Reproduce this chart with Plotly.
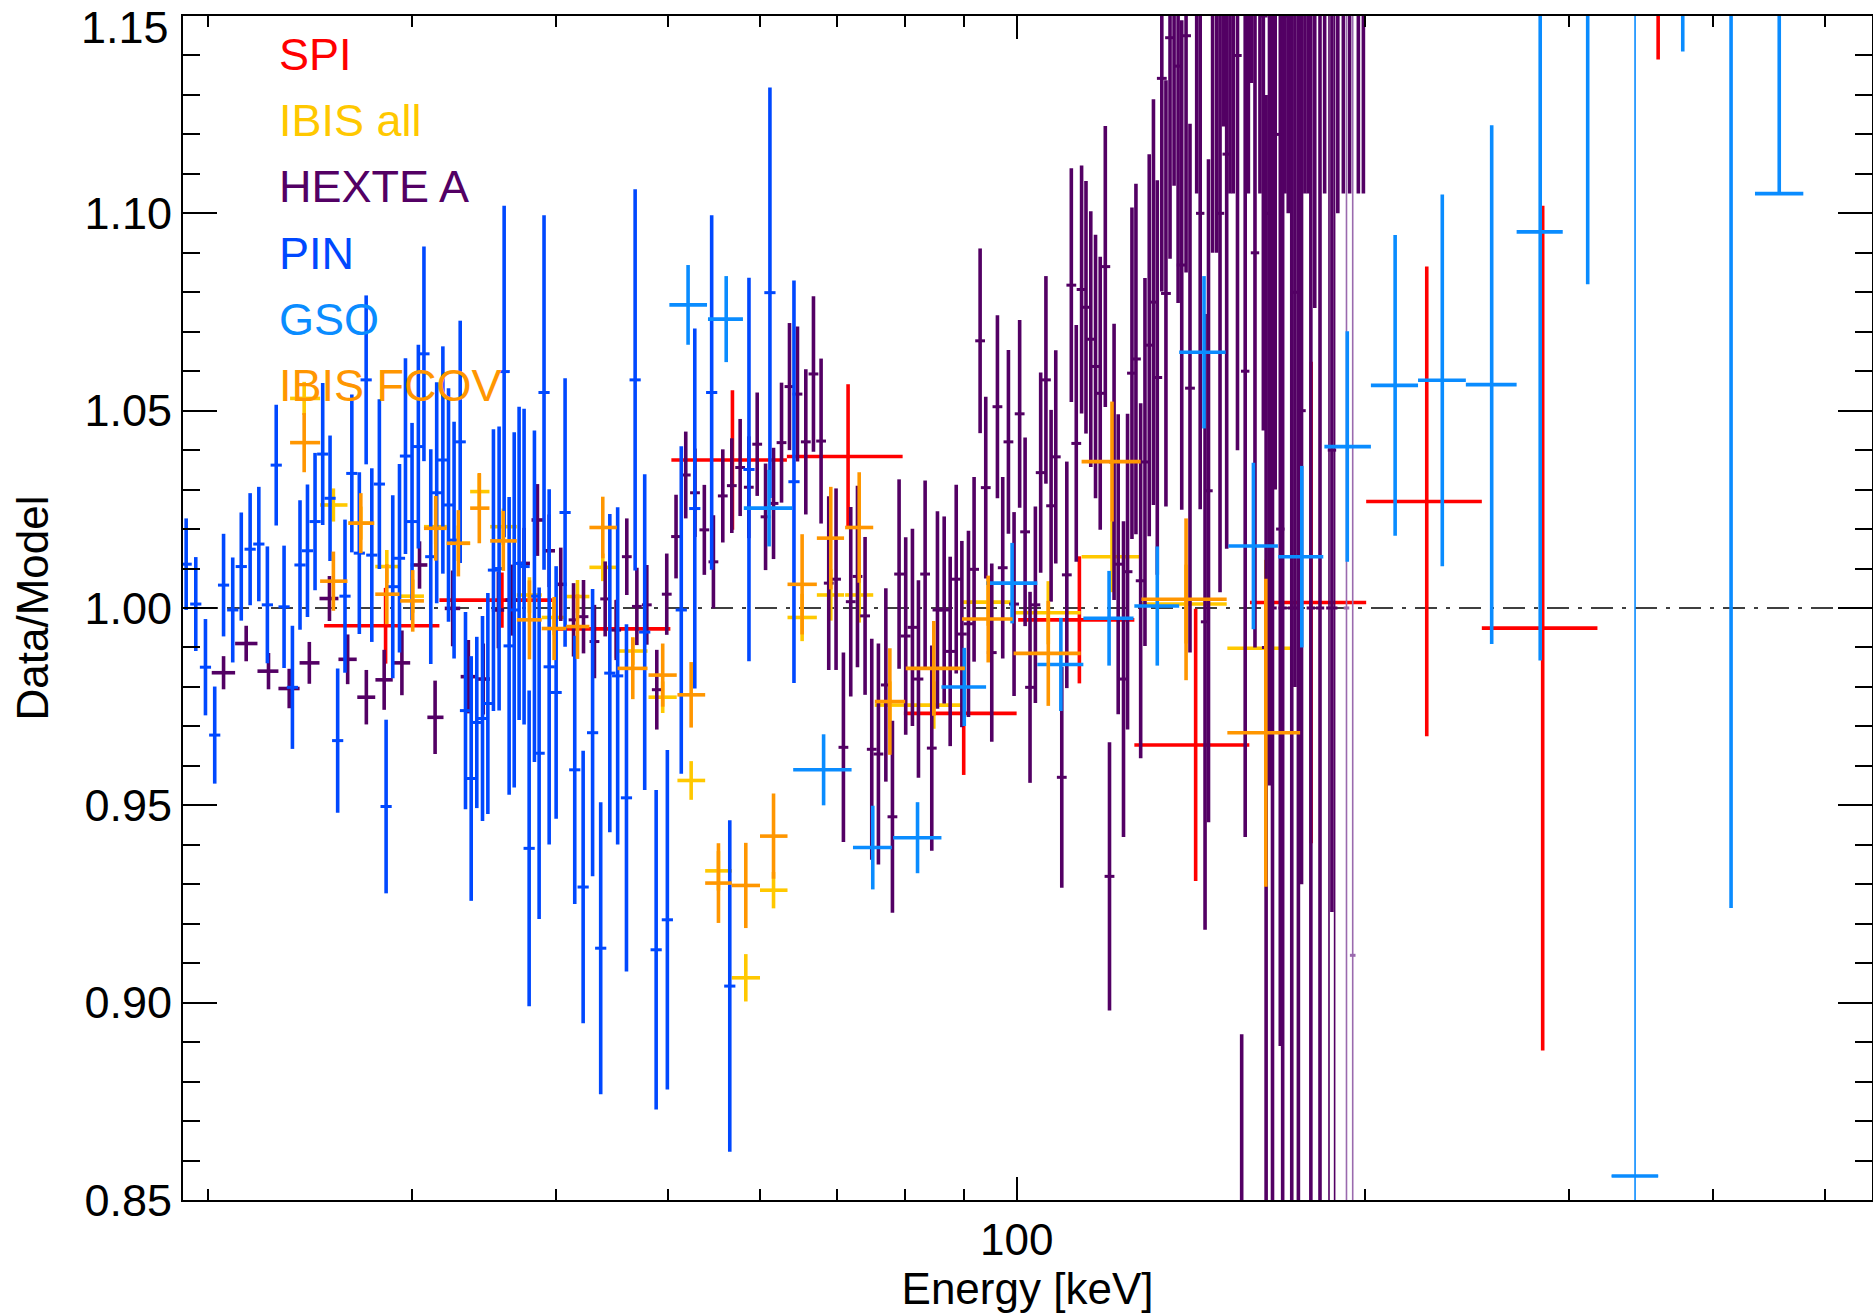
import numpy as np
import plotly.graph_objects as go

# ---------------- data ----------------
# SPI
spi_E = [28.48, 35.9, 45.1, 56.8, 71.5, 90.0, 113.3, 142.8, 179.7, 226.2, 284.9, 358.5]
spi_lo = [25.2, 31.7, 39.7, 50.3, 63.3, 79.9, 100.3, 126.4, 159.1, 200.5, 252.4, 317.7]
spi_hi = [31.7, 39.7, 50.2, 63.3, 79.7, 100.0, 126.4, 158.9, 200.5, 252.4, 317.7, 404.0]
spi_v = [0.9955, 1.002, 0.9947, 1.0375, 1.0384, 0.9733, 0.9970, 0.9653, 1.0014, 1.027, 0.9949, 1.25]
spi_err = [0.0096, 0.007, 0.0074, 0.0177, 0.0183, 0.0156, 0.0161, 0.0345, 0.061, 0.0595, 0.107, 0.111]

# IBIS all
ia_E = [24.22, 25.67, 27.11, 28.55, 30.06, 31.47, 32.92, 34.32, 36.0, 37.92,
        39.83, 41.73, 43.88, 46.58, 49.44, 52.32, 55.24, 58.33, 61.64, 65.25,
        69.08, 73.1, 77.7, 84.8, 94.5, 106.5, 120.9, 140.1, 164.2]
ia_lo = [23.55, 25.0, 26.45, 27.9, 29.32, 30.74, 32.17, 33.7, 35.07, 36.98,
         38.86, 40.8, 42.73, 45.19, 48.06, 50.91, 53.8, 56.73, 60.0, 63.38,
         67.19, 71.08, 75.4, 80.2, 89.7, 99.4, 113.8, 128.2, 152.1]
ia_hi = [25.0, 26.4, 27.84, 29.28, 30.74, 32.17, 33.7, 35.02, 36.98, 38.86,
         40.8, 42.73, 45.12, 47.97, 50.84, 53.8, 56.73, 60.0, 63.38, 67.19,
         70.93, 75.17, 80.1, 90.2, 99.2, 113.6, 128.0, 151.9, 172.3]
ia_v = [1.0531, 1.0261, 1.0215, 1.0105, 1.003, 1.0206, 1.0164, 1.0295, 1.0206, 1.0033,
        0.9976, 1.0029, 1.0103, 0.9891, 0.9774, 0.9563, 0.9334, 0.9063, 0.9285, 0.9976,
        1.0033, 1.0033, 0.9754, 0.9754, 1.0015, 0.9988, 1.013, 1.001, 0.9898]
ia_err = [0.0042, 0.0042, 0.0042, 0.0042, 0.0042, 0.0044, 0.0045, 0.0045, 0.0046, 0.0045,
          0.0045, 0.0042, 0.0035, 0.0035, 0.004, 0.0049, 0.005, 0.006, 0.0046, 0.006,
          0.0065, 0.007, 0.006, 0.006, 0.006, 0.008, 0.009, 0.01, 0.0224]

# HEXTE A, low-energy binned points
hl_E = [20.63, 21.58, 22.56, 23.51, 24.47, 25.47, 26.41, 27.41, 28.4, 29.42, 30.47,
        31.43, 32.55, 33.58, 34.59, 35.65, 36.6, 37.52, 38.53, 39.44, 40.36]
hl_lo = [20.15, 21.11, 22.07, 23.01, 24.0, 24.97, 25.93, 26.92, 27.91, 28.89, 29.94,
         30.95, 32.04, 33.07, 34.13, 35.19, 36.15, 37.03, 38.08, 38.99, 39.9]
hl_hi = [21.11, 22.07, 23.01, 24.0, 24.97, 25.93, 26.89, 27.9, 28.89, 29.91, 30.95,
         31.96, 33.04, 34.03, 35.06, 36.06, 37.03, 37.96, 38.99, 39.9, 40.84]
hl_v = [0.9836, 0.991, 0.984, 0.9796, 0.9861, 1.0024, 0.987, 0.9774, 0.9818, 0.9861, 1.0109,
        0.9723, 0.9999, 0.9826, 0.982, 0.9995, 1.002, 1.0113, 1.0223, 1.0145, 1.006]
hl_err = [0.0042, 0.0045, 0.0046, 0.005, 0.0053, 0.0057, 0.0063, 0.0069, 0.0076, 0.0082, 0.006,
          0.0093, 0.0096, 0.0093, 0.009, 0.0097, 0.009, 0.009, 0.0091, 0.0092, 0.0093]

# HEXTE A, fine channels
hx_E = [41.4, 42.23, 43.16, 44.09, 45.07, 46.03, 46.96, 47.9, 48.86, 49.84,
        50.77, 51.76, 52.72, 53.71, 54.69, 55.72, 56.73, 57.68, 58.68, 59.67,
        60.67, 61.64, 62.63, 63.63, 64.65, 65.73, 66.74, 67.76, 68.8, 69.81,
        70.84, 71.88, 72.85, 73.96, 74.95, 75.95, 77.08, 78.1, 79.14, 80.19,
        81.27, 82.25, 83.35, 84.46, 85.42, 86.57, 87.61, 88.67, 89.67, 90.86,
        91.88, 92.99, 94.04, 95.17, 96.25, 97.27, 98.38, 99.49, 100.6, 101.7,
        102.7, 103.8, 104.9, 106.0, 107.1, 108.1, 109.4, 110.5, 111.5, 112.6,
        113.8, 114.8, 115.9, 117.0, 118.1, 119.3, 120.3, 121.4, 122.4, 123.7,
        124.7, 125.8, 126.8, 128.0, 129.1, 130.2, 131.3, 132.3, 133.5, 134.6,
        135.7, 136.8, 137.9, 138.9, 140.1, 141.2]
hx_v = [0.997, 0.9978, 0.9915, 1.0023, 0.9944, 1.013, 1.0004, 1.0008, 0.9793, 1.0035,
        1.0181, 1.0337, 1.0292, 1.0198, 1.0117, 1.0284, 1.031, 1.0356, 1.0306, 1.0415,
        1.0231, 1.0265, 1.0419, 1.0561, 1.0542, 1.0421, 1.0593, 1.0423, 1.0063, 1.0073,
        0.9647, 1.0016, 1.008, 0.998, 0.9642, 0.963, 0.9805, 0.9471, 1.0086, 0.9929,
        0.9951, 0.982, 1.0086, 0.9645, 0.9995, 0.9995, 0.989, 1.0073, 0.9934, 0.996,
        1.0098, 1.0677, 1.0305, 0.9887, 1.051, 1.0102, 1.0421, 1.001, 1.0492, 1.0193,
        0.9799, 1.0008, 1.0343, 1.0578, 1.0259, 1.0383, 0.9571, 1.0084, 1.0818, 1.0417,
        1.0807, 1.0762, 1.0681, 1.0612, 1.0544, 1.0865, 0.932, 1.037, 1.0111, 0.982,
        1.0092, 1.0595, 1.0631, 1.0069, 1.037, 1.0666, 1.0775, 1.0584, 1.1342, 1.0797,
        1.1445, 1.163, 1.1373, 1.0869, 1.145, 1.0557]
hx_err = [0.0093, 0.0093, 0.0093, 0.0095, 0.0076, 0.0097, 0.0098, 0.0101, 0.0101, 0.0103,
          0.0106, 0.011, 0.0112, 0.0114, 0.0118, 0.0118, 0.012, 0.0123, 0.0129, 0.0131,
          0.0135, 0.0141, 0.0152, 0.0161, 0.0171, 0.0184, 0.0197, 0.0209, 0.022, 0.023,
          0.024, 0.024, 0.023, 0.02, 0.028, 0.028, 0.0245, 0.0243, 0.024, 0.025,
          0.025, 0.025, 0.0237, 0.026, 0.025, 0.0237, 0.024, 0.0239, 0.0236, 0.0236,
          0.0234, 0.0234, 0.023, 0.0226, 0.0232, 0.023, 0.0233, 0.0233, 0.0238, 0.0239,
          0.0242, 0.0249, 0.0254, 0.0263, 0.0243, 0.027, 0.028, 0.0287, 0.0296, 0.03,
          0.0314, 0.032, 0.0324, 0.0334, 0.0346, 0.0356, 0.034, 0.035, 0.038, 0.04,
          0.04, 0.042, 0.0444, 0.045, 0.0466, 0.0484, 0.0514, 0.05, 0.054, 0.054,
          0.056, 0.056, 0.06, 0.062, 0.06, 0.067]

# HEXTE A, high-energy tail
ht_E = [143.1, 144.1, 145.5, 146.5, 147.7, 148.9, 149.9, 150.9, 151.9, 152.9,
        153.9, 155.2, 156.5, 157.6, 158.6, 159.6, 160.7, 162.3, 163.4, 164.3,
        165.4, 166.4, 167.3, 169.0, 169.8, 170.6, 171.7, 172.9, 174.0, 175.2,
        176.3, 177.5, 178.7, 179.6, 181.0, 182.9, 184.6, 187.3, 189.5, 191.6,
        194.0, 197.4, 199.4]
ht_v = [1.21, 1.10, 0.9965, 1.0297, 1.19, 1.18, 1.10, 1.23, 1.115, 1.21,
        1.21, 1.14, 0.80, 1.06, 1.21, 1.25, 1.09, 1.21, 1.15, 0.99,
        1.10, 1.00, 1.12, 1.02, 1.00, 1.21, 1.15, 1.00, 1.08, 1.00,
        1.05, 1.21, 1.21, 1.00, 1.17, 1.00, 1.21, 1.04, 1.20, 1.21,
        1.21, 1.21, 1.21]
ht_err = [0.105, 0.075, 0.078, 0.084, 0.10, 0.09, 0.096, 0.108, 0.10, 0.105,
          0.105, 0.10, 0.092, 0.118, 0.105, 0.117, 0.10, 0.105, 0.105, 0.14,
          0.145, 0.17, 0.09, 0.131, 0.17, 0.105, 0.05, 0.18, 0.10, 0.19,
          0.12, 0.105, 0.105, 0.2, 0.094, 0.21, 0.105, 0.117, 0.10, 0.105,
          0.105, 0.105, 0.105]
# HEXTE A, last channels with very large errors
hthin_E = [186.2, 188.3]
hthin_v = [1.0, 1.0]
hthin_err = [0.3, 0.3]
hlast_E = [192.8, 195.2]
hlast_v = [1.0, 0.912]
hlast_err = [0.35, 0.4]

# PIN
pin_E = [19.15, 19.52, 19.90, 20.27, 20.63, 21.01, 21.37, 21.75, 22.13, 22.51,
         22.91, 23.27, 23.66, 24.02, 24.38, 24.75, 25.13, 25.50, 25.89, 26.27,
         26.63, 27.03, 27.40, 27.71, 28.13, 28.51, 28.89, 29.28, 29.63, 30.02,
         30.40, 30.74, 31.16, 31.53, 31.92, 32.28, 32.64, 33.04, 33.39, 33.77,
         34.15, 34.54, 34.91, 35.30, 35.70, 36.06, 36.42, 36.79, 37.15, 37.52,
         37.90, 38.30, 38.66, 39.04, 39.44, 39.99, 40.71, 41.5, 42.2, 43.0,
         43.7, 44.5, 45.2, 46.0, 46.8, 47.7, 48.8, 49.9, 51.3, 52.7,
         54.5, 56.5, 58.7, 61.2, 64.2]
pin_v = [1.0111, 1.0010, 0.9850, 0.9678, 1.0058, 0.9995, 1.0105, 1.0149, 1.0162, 1.0008,
         1.0362, 1.0003, 0.9799, 1.0109, 1.0145, 1.0219, 1.0390, 1.0278, 0.9664, 1.0030,
         1.0341, 1.0139, 1.0578, 1.0134, 1.0314, 0.9497, 1.0054, 1.0126, 1.0385, 1.0219,
         1.0409, 1.0644, 1.0130, 1.0292, 1.0375, 1.0261, 1.0172, 1.0421, 0.974, 0.9568,
         0.9710, 0.9720, 0.9758, 1.0096, 1.0100, 1.0599, 0.9904, 0.9995, 1.0113, 1.0105,
         0.9391, 1.0030, 0.9632, 1.0546, 0.9851, 0.9786, 1.0242, 0.959, 0.9293, 0.9684,
         0.9138, 0.9835, 0.9828, 0.9519, 1.0578, 0.9939, 0.9134, 0.921, 0.9995, 1.0252,
         1.0546, 0.9042, 1.0351, 1.0799, 1.032]
pin_err = [0.0116, 0.0119, 0.0122, 0.0123, 0.0130, 0.0133, 0.0137, 0.0142, 0.0145, 0.0148,
           0.0153, 0.0155, 0.0156, 0.0164, 0.0168, 0.0174, 0.0180, 0.0159, 0.0183, 0.0194,
           0.0200, 0.0205, 0.0214, 0.0220, 0.0215, 0.0220, 0.0232, 0.0239, 0.0248, 0.0250,
           0.0258, 0.0272, 0.0272, 0.0280, 0.0288, 0.0296, 0.0300, 0.0307, 0.025, 0.031,
           0.0217, 0.026, 0.028, 0.0357, 0.0360, 0.0420, 0.0377, 0.0450, 0.0397, 0.0400,
           0.0400, 0.0420, 0.0420, 0.0449, 0.0450, 0.032, 0.034, 0.034, 0.0345, 0.0364,
           0.037, 0.0403, 0.0427, 0.044, 0.0483, 0.040, 0.0405, 0.043, 0.0415, 0.0456,
           0.0449, 0.042, 0.0486, 0.052, 0.051]

# GSO
gso_E = [52.0, 56.1, 61.1, 68.1, 75.1, 82.1, 90.1, 99.1, 109.2, 120.2, 132.3, 145.2,
         160.2, 176.4, 193.1, 212.4, 233.3, 257.4, 283.5, 311.6, 376.5, 414.5, 456.2]
gso_lo = [50.1, 54.1, 58.1, 64.1, 72.2, 78.2, 86.1, 94.1, 104.2, 114.2, 126.4, 138.2,
          152.4, 168.3, 184.5, 202.4, 222.3, 244.5, 270.5, 296.5, 358.5, 395.0, 434.7]
gso_hi = [54.0, 58.0, 64.0, 72.0, 78.0, 86.1, 94.1, 104.2, 114.2, 126.2, 138.2, 151.6,
          168.2, 184.1, 202.4, 222.3, 244.5, 270.5, 296.5, 326.4, 395.0, 434.7, 478.6]
gso_v = [1.0768, 1.0732, 1.0253, 0.9590, 0.9393, 0.9418, 0.9800, 1.0063, 0.9857, 0.9974,
         1.0005, 1.0648, 1.0157, 1.0130, 1.0409, 1.0564, 1.0577, 1.0566, 1.0953, 1.2000,
         1.2500, 1.2000, 1.1050]
gso_eplus = [0.0101, 0.0109, 0.0097, 0.009, 0.0106, 0.009, 0.0099, 0.0102, 0.0118, 0.012,
             0.0151, 0.0193, 0.0211, 0.023, 0.0292, 0.0381, 0.0471, 0.0657, 0.1086, 0.118,
             0.109, 0.276, 0.2]
gso_eminus = [0.0101, 0.0109, 0.0097, 0.009, 0.0106, 0.009, 0.0099, 0.0102, 0.0118, 0.012,
              0.0151, 0.0193, 0.0211, 0.023, 0.0292, 0.0381, 0.0471, 0.0657, 0.1086, 0.118,
              0.109, 0.276, 0.0]
gso_thin_E = [342.4]
gso_thin_lo = [326.8]
gso_thin_hi = [358.5]
gso_thin_v = [0.8561]
gso_thin_err = [0.6]

# IBIS FCOV
fc_E = [24.22, 25.67, 27.11, 28.55, 30.06, 31.47, 32.92, 34.32, 36.0, 37.92,
        39.83, 41.73, 43.88, 46.58, 49.44, 52.32, 55.24, 58.33, 61.64, 65.25,
        69.08, 73.1, 77.7, 84.8, 94.5, 106.5, 120.9, 140.1, 164.2]
fc_lo = [23.55, 25.0, 26.45, 27.9, 29.32, 30.74, 32.17, 33.7, 35.07, 36.98,
         38.86, 40.8, 42.73, 45.19, 48.06, 50.91, 53.8, 56.73, 60.0, 63.38,
         67.19, 71.08, 75.4, 80.2, 89.7, 99.4, 113.8, 128.2, 152.1]
fc_hi = [25.0, 26.4, 27.84, 29.28, 30.74, 32.17, 33.7, 35.02, 36.98, 38.86,
         40.8, 42.73, 45.12, 47.97, 50.84, 53.8, 56.73, 60.0, 63.38, 67.19,
         70.93, 75.17, 80.1, 90.2, 99.2, 113.6, 128.0, 151.9, 175.8]
fc_v = [1.0419, 1.0068, 1.0215, 1.0035, 1.0018, 1.0202, 1.0164, 1.0253, 1.017, 0.997,
        0.9948, 0.9953, 1.0204, 0.9847, 0.983, 0.978, 0.9303, 0.9297, 0.9422, 1.006,
        1.0177, 1.0204, 0.9763, 0.9847, 0.9972, 0.9885, 1.0371, 1.0022, 0.9684]
fc_err = [0.0075, 0.0075, 0.0076, 0.0076, 0.0078, 0.0082, 0.0084, 0.0089, 0.0076, 0.01,
          0.008, 0.0082, 0.0078, 0.0078, 0.008, 0.0083, 0.0101, 0.0108, 0.0108, 0.0127,
          0.013, 0.014, 0.0135, 0.012, 0.011, 0.0133, 0.0152, 0.0205, 0.039]

legend_labels = ["SPI", "IBIS all", "HEXTE A", "PIN", "GSO", "IBIS FCOV"]
y_ticks = [0.85, 0.90, 0.95, 1.00, 1.05, 1.10, 1.15]
y_tick_text = ["0.85", "0.90", "0.95", "1.00", "1.05", "1.10", ""]
y_top_label = "1.15"   # drawn separately, nudged down so it is not cut by the page edge
x_ticks = [100]
x_minor = [20, 30, 40, 50, 60, 70, 80, 90, 200, 300, 400, 500]

# ---------------- styling ----------------
C_SPI = "#FF0000"
C_IA = "#FFC800"
C_HEX = "#530064"
C_HEX_LIGHT = "#9A6AAE"
C_PIN = "#0048FF"
C_GSO = "#0A8CFF"
C_FC = "#FF9600"
FONT = "Liberation Sans, Arial, Helvetica, sans-serif"
TH = 3.6

fig = go.Figure()


def cross(E, lo, hi, v, eplus, eminus, color, th=TH):
    E = np.asarray(E, float)
    return go.Scatter(
        x=E, y=v, mode="markers",
        marker=dict(size=1, color=color),
        error_x=dict(type="data", symmetric=False,
                     array=np.asarray(hi, float) - E,
                     arrayminus=E - np.asarray(lo, float),
                     color=color, thickness=th, width=0),
        error_y=dict(type="data", symmetric=False, array=eplus, arrayminus=eminus,
                     color=color, thickness=th, width=0),
        showlegend=False, hoverinfo="skip")


def ticked(E, v, err, color, th=TH, msize=8):
    return go.Scatter(
        x=E, y=v, mode="markers",
        marker=dict(symbol="line-ew", size=msize, color=color,
                    line=dict(width=3, color=color)),
        error_y=dict(type="data", symmetric=True, array=err,
                     color=color, thickness=th, width=0),
        showlegend=False, hoverinfo="skip")


# draw order follows the legend order
fig.add_trace(cross(spi_E, spi_lo, spi_hi, spi_v, spi_err, spi_err, C_SPI))
fig.add_trace(cross(ia_E, ia_lo, ia_hi, ia_v, ia_err, ia_err, C_IA))
fig.add_trace(cross(hl_E, hl_lo, hl_hi, hl_v, hl_err, hl_err, C_HEX))
fig.add_trace(ticked(hx_E, hx_v, hx_err, C_HEX, msize=7))
fig.add_trace(ticked(ht_E, ht_v, ht_err, C_HEX, msize=6))
fig.add_trace(ticked(hthin_E, hthin_v, hthin_err, C_HEX, th=1.6, msize=4))
fig.add_trace(ticked(hlast_E, hlast_v, hlast_err, C_HEX_LIGHT, th=1.6, msize=4))
fig.add_trace(ticked(pin_E, pin_v, pin_err, C_PIN, msize=8))
fig.add_trace(cross(gso_E, gso_lo, gso_hi, gso_v, gso_eplus, gso_eminus, C_GSO))
fig.add_trace(cross(gso_thin_E, gso_thin_lo, gso_thin_hi, gso_thin_v,
                    gso_thin_err, gso_thin_err, C_GSO, th=1.6))
fig.add_trace(go.Scatter(x=gso_thin_E, y=gso_thin_v, mode="markers",
                         marker=dict(size=1, color=C_GSO),
                         error_x=dict(type="data", symmetric=False,
                                      array=[gso_thin_hi[0] - gso_thin_E[0]],
                                      arrayminus=[gso_thin_E[0] - gso_thin_lo[0]],
                                      color=C_GSO, thickness=TH, width=0),
                         showlegend=False, hoverinfo="skip"))
fig.add_trace(cross(fc_E, fc_lo, fc_hi, fc_v, fc_err, fc_err, C_FC))

# reference line at 1
fig.add_shape(type="line", xref="paper", x0=0, x1=1, yref="y", y0=1.0, y1=1.0,
              line=dict(color="black", width=1.4, dash="22px,9px,4px,9px"), layer="below")

# legend text
leg_colors = [C_SPI, C_IA, C_HEX, C_PIN, C_GSO, C_FC]
for i, (lab, col) in enumerate(zip(legend_labels, leg_colors)):
    fig.add_annotation(text=lab, xref="paper", yref="paper",
                       x=0.0555, y=0.9675 - i * 0.0559,
                       xanchor="left", yanchor="middle", showarrow=False,
                       font=dict(family=FONT, size=45, color=col))

# top y tick label (kept fully inside the page like the reference)
fig.add_annotation(text=y_top_label, xref="paper", yref="paper",
                   x=-0.0077, y=1.0125, xanchor="right", yanchor="top",
                   showarrow=False, borderpad=0,
                   font=dict(family=FONT, size=45, color="black"))

fig.update_layout(
    width=1873, height=1316,
    margin=dict(l=183, r=1, t=16, b=116, autoexpand=False),
    paper_bgcolor="white", plot_bgcolor="white",
    font=dict(family=FONT, size=44, color="black"),
    xaxis=dict(type="log", range=[np.log10(19.03), np.log10(548.7)],
               automargin=False,
               showgrid=False, zeroline=False,
               showline=True, linecolor="black", linewidth=2, mirror="ticks",
               ticks="inside", ticklen=23, tickwidth=1.5, tickcolor="black",
               tickmode="array", tickvals=x_ticks, ticktext=["100"],
               tickfont=dict(family=FONT, size=44),
               minor=dict(tickmode="array", tickvals=x_minor, ticks="inside",
                          ticklen=11, tickwidth=1.5, tickcolor="black", showgrid=False),
               title=dict(text="Energy [keV]", font=dict(family=FONT, size=44), standoff=6)),
    yaxis=dict(range=[0.85, 1.15], automargin=False,
               showgrid=False, zeroline=False,
               showline=True, linecolor="black", linewidth=2, mirror="ticks",
               ticks="inside", ticklen=34, tickwidth=1.5, tickcolor="black",
               tickmode="array", tickvals=y_ticks, ticktext=y_tick_text,
               tickfont=dict(family=FONT, size=45),
               minor=dict(tick0=0.85, dtick=0.01, ticks="inside", ticklen=17, tickwidth=1.5,
                          tickcolor="black", showgrid=False),
               title=dict(text="Data/Model", font=dict(family=FONT, size=44), standoff=22)),
)

fig.write_html("out.html")
